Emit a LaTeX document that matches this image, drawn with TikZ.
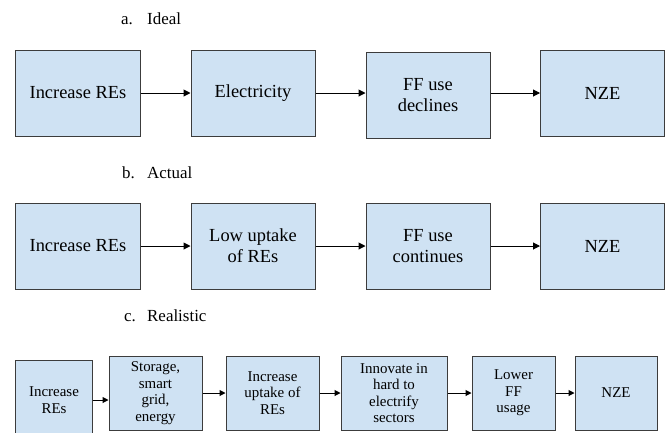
\documentclass[tikz,border=0pt]{standalone}
\usepackage{fontspec}
\setmainfont{LiberationSerif}[Extension=.ttf,UprightFont=*-Regular,BoldFont=*-Bold,ItalicFont=*-Italic,BoldItalicFont=*-BoldItalic]
\usetikzlibrary{arrows.meta}
\definecolor{boxfill}{RGB}{207,226,243}
\definecolor{boxline}{RGB}{60,60,60}
\begin{document}
\begin{tikzpicture}[x=1bp,y=-1bp,
  bigbox/.style={draw=boxline,fill=boxfill,line width=1bp,inner sep=0pt,align=center,
    minimum width=124bp,minimum height=86bp,font=\fontsize{18.5}{21}\selectfont},
  smallbox/.style={draw=boxline,fill=boxfill,line width=1bp,inner sep=0pt,align=center,
    minimum height=74bp,font=\fontsize{15}{16.5}\selectfont},
  lbl/.style={inner sep=0pt,anchor=base west,font=\fontsize{17}{20}\selectfont},
  arr/.style={line width=1bp,-{Triangle[length=7bp,width=7bp]}},
  sarr/.style={line width=1bp,-{Triangle[length=6bp,width=6bp]}}]
\useasboundingbox (0,0) rectangle (667,432);
\clip (0,0) rectangle (667,432);
% labels
\node[lbl] (la) at (121,24) {a.};
\node[lbl] (lat) at (147,24) {Ideal};
\node[lbl] (lb) at (122,178) {b.};
\node[lbl] (lbt) at (147,178) {Actual};
\node[lbl] (lc) at (124,321) {c.};
\node[lbl] (lct) at (147,321) {Realistic};
% row a
\node[bigbox] (a1) at (78,93) {Increase REs};
\node[bigbox] (a2) at (253,93) {Electricity};
\node[bigbox] (a3) at (428,95) {FF use\\declines};
\node[bigbox] (a4) at (602.5,93) {NZE};
\draw[arr] (a1.east) -- (a1.east -| a2.west);
\draw[arr] (a2.east) -- (a2.east -| a3.west);
\draw[arr] (a3.east |- a4.west) -- (a4.west);
% row b
\node[bigbox] (b1) at (78,246) {Increase REs};
\node[bigbox] (b2) at (253,246) {Low uptake\\of REs};
\node[bigbox] (b3) at (428,246) {FF use\\continues};
\node[bigbox] (b4) at (602.5,246) {NZE};
\draw[arr] (b1) -- (b2);
\draw[arr] (b2) -- (b3);
\draw[arr] (b3) -- (b4);
% row c
\node[smallbox,minimum width=76bp,minimum height=80bp] (c1) at (54,400) {Increase\\REs};
\node[smallbox,minimum width=93bp] (c2) at (155.5,393) {Storage,\\smart\\grid,\\energy};
\node[smallbox,minimum width=93bp] (c3) at (272.5,393) {Increase\\uptake of\\REs};
\node[smallbox,minimum width=106bp] (c4) at (394,393) {Innovate in\\hard to\\electrify\\sectors};
\node[smallbox,minimum width=83bp] (c5) at (513.5,393) {Lower\\FF\\usage};
\node[smallbox,minimum width=82bp] (c6) at (616,393) {NZE};
\draw[sarr] (c1.east) -- (c1.east -| c2.west);
\draw[sarr] (c2) -- (c3);
\draw[sarr] (c3) -- (c4);
\draw[sarr] (c4) -- (c5);
\draw[sarr] (c5) -- (c6);
\end{tikzpicture}
\end{document}
